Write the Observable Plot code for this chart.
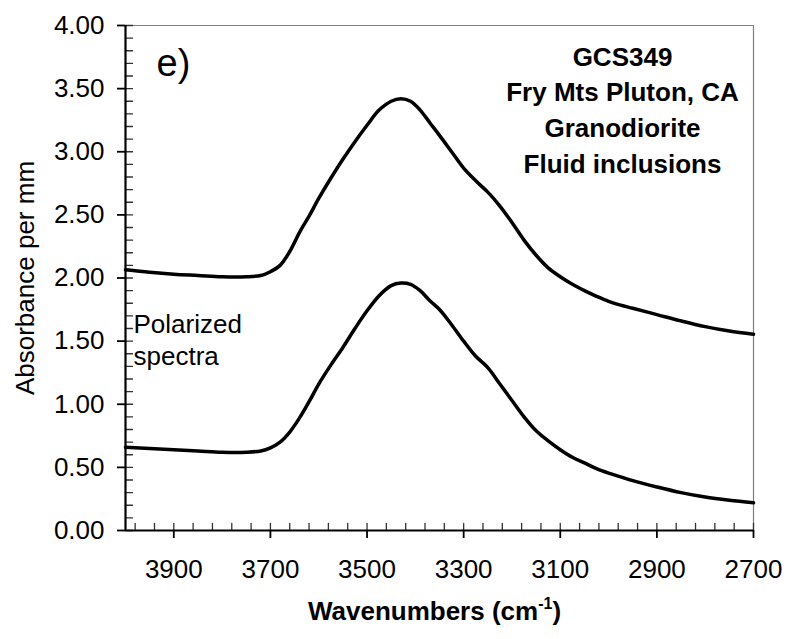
<!DOCTYPE html>
<html>
<head>
<meta charset="utf-8">
<script src="https://cdn.jsdelivr.net/npm/d3@7"></script>
<script src="https://cdn.jsdelivr.net/npm/@observablehq/plot@0.6"></script>
<style>
  html, body { margin: 0; padding: 0; background: #fff; }
  #chart svg { display: block; }
</style>
</head>
<body>
<div id="chart"></div>
<script>
// Wavenumber grid (cm-1) shared by both polarized spectra
const wavenumbers = [4000, 3950, 3900, 3850, 3800, 3750, 3720, 3700, 3680, 3660, 3640, 3620, 3600, 3575, 3550, 3525, 3500, 3475, 3450, 3430, 3410, 3390, 3370, 3350, 3325, 3300, 3275, 3250, 3225, 3200, 3175, 3150, 3125, 3100, 3075, 3050, 3025, 3000, 2975, 2950, 2900, 2850, 2800, 2750, 2700];

// Absorbance per mm, upper spectrum
const upperAbsorbance = [2.065, 2.045, 2.03, 2.02, 2.01, 2.01, 2.02, 2.05, 2.10, 2.21, 2.36, 2.49, 2.63, 2.79, 2.94, 3.08, 3.21, 3.33, 3.40, 3.42, 3.40, 3.33, 3.23, 3.13, 3.00, 2.87, 2.77, 2.68, 2.57, 2.44, 2.30, 2.18, 2.08, 2.01, 1.95, 1.90, 1.855, 1.815, 1.785, 1.76, 1.71, 1.66, 1.615, 1.58, 1.555];

// Absorbance per mm, lower spectrum
const lowerAbsorbance = [0.66, 0.65, 0.64, 0.63, 0.62, 0.62, 0.63, 0.655, 0.70, 0.78, 0.89, 1.02, 1.16, 1.31, 1.45, 1.60, 1.74, 1.86, 1.94, 1.96, 1.95, 1.90, 1.82, 1.75, 1.63, 1.50, 1.38, 1.29, 1.16, 1.03, 0.90, 0.79, 0.71, 0.64, 0.58, 0.535, 0.49, 0.455, 0.425, 0.395, 0.345, 0.30, 0.265, 0.24, 0.22];

// Axis ticks
const xMajorTicks = [3900, 3700, 3500, 3300, 3100, 2900, 2700];
const xMinorTicks = [3980, 3940, 3900, 3860, 3820, 3780, 3740, 3700, 3660, 3620, 3580, 3540, 3500, 3460, 3420, 3380, 3340, 3300, 3260, 3220, 3180, 3140, 3100, 3060, 3020, 2980, 2940, 2900, 2860, 2820, 2780, 2740, 2700];
const yMajorTicks = [0, 0.5, 1, 1.5, 2, 2.5, 3, 3.5, 4];
const yMinorTicks = [0, 0.1, 0.2, 0.3, 0.4, 0.5, 0.6, 0.7, 0.8, 0.9, 1, 1.1, 1.2, 1.3, 1.4, 1.5, 1.6, 1.7, 1.8, 1.9, 2, 2.1, 2.2, 2.3, 2.4, 2.5, 2.6, 2.7, 2.8, 2.9, 3, 3.1, 3.2, 3.3, 3.4, 3.5, 3.6, 3.7, 3.8, 3.9, 4];

// Text
const panelLabel = "e)";
const sampleLines = ["GCS349", "Fry Mts Pluton, CA", "Granodiorite", "Fluid inclusions"];
const noteLines = ["Polarized", "spectra"];
const yTitle = "Absorbance per mm";
const xTitle = "Wavenumbers (cm-1)";

const spectra = [
  ...wavenumbers.map((w, i) => ({series: "upper", w, a: upperAbsorbance[i]})),
  ...wavenumbers.map((w, i) => ({series: "lower", w, a: lowerAbsorbance[i]}))
];

// a plain straight tick for vector marks
const tickShape = {draw(context, l) { context.moveTo(0, 0); context.lineTo(0, -l); }};

const chart = Plot.plot({
  width: 786,
  height: 639,
  marginLeft: 125,
  marginRight: 33,
  marginTop: 25,
  marginBottom: 109,
  style: {fontFamily: "'Liberation Sans', Arial, sans-serif", fontSize: "26px", color: "black", background: "white"},
  x: {domain: [4000, 2700]},
  y: {domain: [0, 4]},
  marks: [
    // light frame on top and right
    Plot.ruleY([4], {stroke: "#7f7f7f", strokeWidth: 1.2}),
    Plot.ruleX([2700], {stroke: "#7f7f7f", strokeWidth: 1.2}),
    // inward minor ticks
    Plot.vector(yMinorTicks, {y: d => d, frameAnchor: "left", anchor: "start", rotate: 90, length: 7, shape: tickShape, stroke: "#333", strokeWidth: 1.3}),
    Plot.vector(xMinorTicks, {x: d => d, frameAnchor: "bottom", anchor: "start", rotate: 0, length: 7, shape: tickShape, stroke: "#333", strokeWidth: 1.3}),
    // outward major ticks with labels
    Plot.axisY(yMajorTicks, {tickSize: 8, tickPadding: 13, strokeWidth: 1.8, tickFormat: d => d.toFixed(2), label: null, fontSize: 26}),
    Plot.axisX(xMajorTicks, {tickSize: 8, tickPadding: 21, strokeWidth: 1.8, tickFormat: d => String(d), label: null, fontSize: 26}),
    // axis lines
    Plot.ruleX([4000], {strokeWidth: 2.2}),
    Plot.ruleY([0], {strokeWidth: 2.2}),
    // spectra
    Plot.line(spectra, {x: "w", y: "a", z: "series", stroke: "black", strokeWidth: 3.5, curve: "catmull-rom"}),
    // titles and annotations
    Plot.text([yTitle], {frameAnchor: "left", textAnchor: "middle", lineAnchor: "middle", rotate: -90, dx: -100, fontSize: 26}),
    Plot.text([xTitle], {frameAnchor: "bottom", textAnchor: "middle", lineAnchor: "bottom", dx: -5, dy: 89, fontSize: 26, fontWeight: "bold"}),
    Plot.text([panelLabel], {frameAnchor: "top-left", textAnchor: "start", lineAnchor: "bottom", dx: 31, dy: 50, fontSize: 38}),
    Plot.text([sampleLines.join("\n")], {frameAnchor: "top-right", textAnchor: "middle", lineAnchor: "top", dx: -131, dy: 15, lineHeight: 1.37, fontSize: 26, fontWeight: "bold"}),
    Plot.text([noteLines.join("\n")], {frameAnchor: "top-left", textAnchor: "start", lineAnchor: "top", dx: 8, dy: 284, lineHeight: 1.25, fontSize: 26})
  ]
});

document.getElementById("chart").append(chart);

// Superscript the exponent in the x-axis title
d3.select(chart).selectAll("text").filter(function () { return this.textContent === xTitle; }).each(function () {
  const t = d3.select(this);
  t.text(null);
  t.append("tspan").text("Wavenumbers (cm");
  t.append("tspan").attr("font-size", 16).attr("dy", -11).text("-1");
  t.append("tspan").attr("dy", 11).text(")");
});
</script>
</body>
</html>
